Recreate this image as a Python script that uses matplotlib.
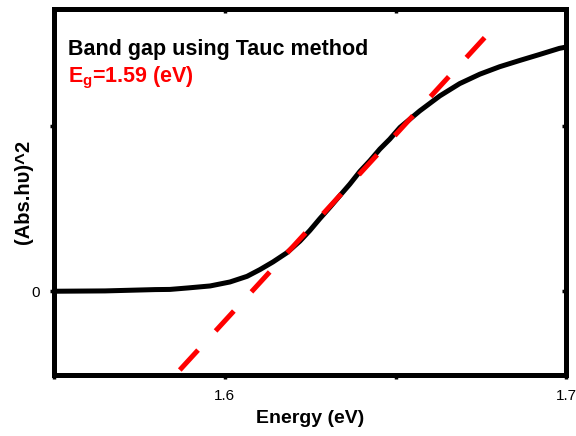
import matplotlib
matplotlib.use("Agg")
import matplotlib.pyplot as plt

plt.rcParams["font.family"] = ["Liberation Sans", "DejaVu Sans"]
plt.rcParams["mathtext.fontset"] = "custom"
plt.rcParams["mathtext.rm"] = "Liberation Sans:bold"
plt.rcParams["mathtext.bf"] = "Liberation Sans:bold"

# Tauc curve
energy = [1.5500, 1.5649, 1.5796, 1.5839, 1.5892, 1.5957, 1.6015, 1.6065, 1.6103,
          1.6141, 1.6182, 1.6220, 1.6249, 1.6278, 1.6308, 1.6337, 1.6366, 1.6396,
          1.6425, 1.6454, 1.6483, 1.6513, 1.6571, 1.6630, 1.6688, 1.6747, 1.6805,
          1.6864, 1.6922, 1.6980, 1.7000]
tauc = [0.000, 0.002, 0.010, 0.011, 0.020, 0.032, 0.056, 0.090, 0.131,
        0.177, 0.233, 0.303, 0.367, 0.438, 0.508, 0.578, 0.647, 0.725,
        0.789, 0.859, 0.919, 0.990, 1.090, 1.181, 1.255, 1.312, 1.357,
        1.395, 1.431, 1.468, 1.476]

# linear fit line (endpoints as drawn)
fit_x = [1.5868, 1.6774]
fit_y = [-0.476, 1.562]

x_ticks = [1.55, 1.6, 1.65, 1.7]
x_labels = ["", "1.6", "", "1.7"]
y_ticks = [0, 1]
y_labels = ["0", ""]

fig = plt.figure(figsize=(5.76, 4.36), dpi=100)
ax = fig.add_axes([0.094, 0.140, 0.889, 0.839])

ax.plot(energy, tauc, color="black", lw=3.6, solid_joinstyle="round", zorder=2)
ax.plot(fit_x, fit_y, color="#ff0000", lw=3.6, dashes=(5.4, 5.2), zorder=3)

ax.set_xlim(1.55, 1.70)
ax.set_ylim(-0.506, 1.705)
ax.set_xticks(x_ticks)
ax.set_xticklabels(x_labels)
ax.set_yticks(y_ticks)
ax.set_yticklabels(y_labels)

for s in ax.spines.values():
    s.set_linewidth(3.6)
ax.tick_params(axis="both", which="major", direction="out", length=3, width=2.5,
               labelsize=11, pad=7)
ax.tick_params(top=False, right=False)
ax2 = ax.secondary_xaxis("top")
ax2.set_xticks(x_ticks)
ax2.tick_params(direction="in", length=3, width=2.5, labeltop=False)
ax3 = ax.secondary_yaxis("right")
ax3.set_yticks(y_ticks)
ax3.tick_params(direction="in", length=3, width=2.5, labelright=False)
for s in list(ax2.spines.values()) + list(ax3.spines.values()):
    s.set_visible(False)

ax.set_xlabel("Energy (eV)", fontsize=14, fontweight="bold", labelpad=5)
ax.set_ylabel("(Abs.h\u03c5)^2", fontsize=14.5, fontweight="bold")
ax.yaxis.set_label_coords(-0.041, 0.5)

ax.text(0.027, 0.874, "Band gap using Tauc method", transform=ax.transAxes,
        fontsize=15.5, fontweight="bold", color="black", va="baseline")
ax.text(0.027, 0.800, r"E$_{\mathbf{g}}$=1.59 (eV)", transform=ax.transAxes,
        fontsize=15.5, fontweight="bold", color="#ff0000", va="baseline")

fig.savefig("out.png", dpi=100)
